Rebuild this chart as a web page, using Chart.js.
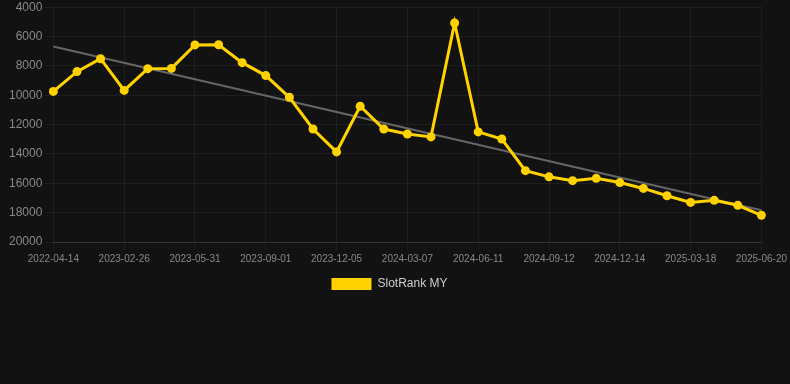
<!DOCTYPE html>
<html>
<head>
<meta charset="utf-8">
<script src="https://cdn.jsdelivr.net/npm/chart.js@4"></script>
<style>
    html, body { margin: 0; padding: 0; background: #121212; }
    #wrap { width: 790px; height: 300px; position: relative; }
</style>
</head>
<body>
<div id="wrap"><canvas id="chart"></canvas></div>
<script>
const dates = [
    '2022-04-14', '2022-12-25', '2023-01-26', '2023-02-26', '2023-03-29', '2023-04-29',
    '2023-05-31', '2023-07-01', '2023-08-01', '2023-09-01', '2023-10-03', '2023-11-03',
    '2023-12-05', '2024-01-05', '2024-02-05', '2024-03-07', '2024-04-08', '2024-05-10',
    '2024-06-11', '2024-07-12', '2024-08-12', '2024-09-12', '2024-10-13', '2024-11-13',
    '2024-12-14', '2025-01-14', '2025-02-15', '2025-03-18', '2025-04-18', '2025-05-19',
    '2025-06-20'
];
const ranks = [
    9740, 8390, 7510, 9670, 8190, 8170, 6570, 6560, 7780, 8660, 10140, 12300,
    13860, 10750, 12300, 12640, 12840, 5080, 12500, 12980, 15140, 15560, 15820, 15660,
    15950, 16350, 16850, 17300, 17160, 17500, 18180
];
const trendStart = 6680;
const trendEnd = 17840;
const yTicks = [4000, 6000, 8000, 10000, 12000, 14000, 16000, 18000, 20000];

const trend = dates.map((d, i) => i === 0 ? trendStart : (i === dates.length - 1 ? trendEnd : null));
const font = 'Liberation Sans, Arial, sans-serif';

new Chart(document.getElementById('chart'), {
    type: 'line',
    data: {
        labels: dates,
        datasets: [{
            label: 'SlotRank MY',
            data: ranks,
            borderColor: '#ffd200',
            backgroundColor: '#ffd200',
            borderWidth: 3,
            pointRadius: 4.5,
            pointBackgroundColor: '#ffd200',
            pointBorderWidth: 0,
            tension: 0
        }, {
            label: 'Trend',
            data: trend,
            spanGaps: true,
            borderColor: '#666666',
            borderWidth: 2,
            pointRadius: 0
        }]
    },
    options: {
        responsive: true,
        maintainAspectRatio: false,
        animation: false,
        layout: { padding: { left: 6, right: 17 } },
        plugins: {
            legend: {
                position: 'bottom',
                labels: {
                    color: '#cccccc',
                    font: { size: 12, family: font },
                    boxWidth: 40,
                    boxHeight: 12,
                    generateLabels: chart => [{
                        text: 'SlotRank MY',
                        fillStyle: '#ffd200',
                        strokeStyle: '#ffd200',
                        lineWidth: 0,
                        fontColor: '#cccccc',
                        datasetIndex: 0
                    }]
                }
            },
            tooltip: { enabled: false }
        },
        scales: {
            x: {
                grid: { color: 'rgba(255,255,255,0.05)' },
                border: { color: 'rgba(255,255,255,0.1)' },
                ticks: {
                    color: '#888888',
                    font: { size: 10, family: font },
                    maxRotation: 0,
                    autoSkip: false,
                    callback: function (value, index) {
                        return index % 3 === 0 ? this.getLabelForValue(value) : null;
                    }
                }
            },
            y: {
                reverse: true,
                min: yTicks[0],
                max: yTicks[yTicks.length - 1],
                afterBuildTicks: axis => { axis.ticks = yTicks.map(v => ({ value: v })); },
                grid: { color: 'rgba(255,255,255,0.05)' },
                border: { display: false },
                ticks: {
                    color: '#888888',
                    font: { size: 12, family: font, lineHeight: 0.7 },
                    callback: value => String(value)
                }
            }
        }
    }
});
</script>
</body>
</html>
